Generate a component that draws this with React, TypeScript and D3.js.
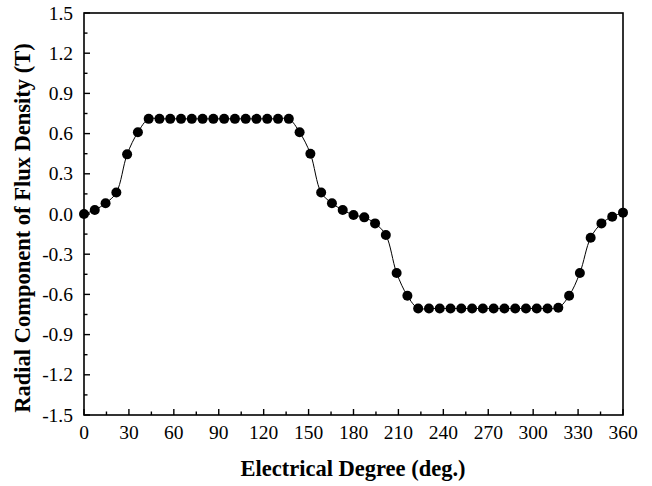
import React, { useEffect, useRef } from 'react';
import * as d3 from 'd3';

// electrical degree, sampled every 7.2 deg (51 points)
const degrees = d3.range(0, 51).map((i) => +(i * 7.2).toFixed(1));

// radial flux density (T)
const fluxValues = [
  0.0, 0.03, 0.08, 0.16, 0.445, 0.61,
  0.71, 0.71, 0.71, 0.71, 0.71, 0.71, 0.71, 0.71, 0.71, 0.71, 0.71, 0.71, 0.71, 0.71,
  0.61, 0.45, 0.16, 0.08, 0.03, -0.007, -0.025, -0.07, -0.157, -0.44, -0.61,
  -0.705, -0.705, -0.705, -0.705, -0.705, -0.705, -0.705, -0.705, -0.705, -0.705, -0.705, -0.705, -0.705, -0.7,
  -0.61, -0.44, -0.177, -0.07, -0.02, 0.01,
];

const xTicks = [0, 30, 60, 90, 120, 150, 180, 210, 240, 270, 300, 330, 360];
const yTicks = [-1.5, -1.2, -0.9, -0.6, -0.3, 0.0, 0.3, 0.6, 0.9, 1.2, 1.5];

const App = () => {
  const ref = useRef<SVGSVGElement>(null);

  useEffect(() => {
    const width = 652;
    const height = 486;
    const margin = { top: 13, left: 84, right: 29, bottom: 71 };
    const svg = d3.select(ref.current);
    svg.selectAll('*').remove();

    const x = d3.scaleLinear().domain([0, 360]).range([margin.left, width - margin.right]);
    const y = d3.scaleLinear().domain([-1.5, 1.5]).range([height - margin.bottom, margin.top]);

    const font = '"Liberation Serif", "Times New Roman", serif';

    // frame
    svg.append('rect')
      .attr('x', x(0))
      .attr('y', y(1.5))
      .attr('width', x(360) - x(0))
      .attr('height', y(-1.5) - y(1.5))
      .style('fill', 'none')
      .style('stroke', '#000')
      .style('stroke-width', 1.6);

    // bottom axis, ticks inward
    const xMinor = d3.range(15, 360, 30);
    svg.append('g').selectAll('line.maj').data(xTicks).enter().append('line')
      .attr('x1', (d) => x(d)).attr('x2', (d) => x(d))
      .attr('y1', y(-1.5)).attr('y2', y(-1.5) - 6)
      .style('stroke', '#000').style('stroke-width', 1.4);
    svg.append('g').selectAll('line.min').data(xMinor).enter().append('line')
      .attr('x1', (d) => x(d)).attr('x2', (d) => x(d))
      .attr('y1', y(-1.5)).attr('y2', y(-1.5) - 3.5)
      .style('stroke', '#000').style('stroke-width', 1.4);
    svg.append('g').selectAll('text').data(xTicks).enter().append('text')
      .attr('x', (d) => x(d))
      .attr('y', y(-1.5) + 24)
      .attr('text-anchor', 'middle')
      .style('font-family', font)
      .style('font-size', '19.5px')
      .text((d) => d);

    // left axis
    const yMinor = d3.range(-1.35, 1.5, 0.3);
    svg.append('g').selectAll('line.maj').data(yTicks).enter().append('line')
      .attr('x1', x(0)).attr('x2', x(0) + 6)
      .attr('y1', (d) => y(d)).attr('y2', (d) => y(d))
      .style('stroke', '#000').style('stroke-width', 1.4);
    svg.append('g').selectAll('line.min').data(yMinor).enter().append('line')
      .attr('x1', x(0)).attr('x2', x(0) + 3.5)
      .attr('y1', (d) => y(d)).attr('y2', (d) => y(d))
      .style('stroke', '#000').style('stroke-width', 1.4);
    svg.append('g').selectAll('text').data(yTicks).enter().append('text')
      .attr('x', x(0) - 11)
      .attr('y', (d) => y(d) + 6.5)
      .attr('text-anchor', 'end')
      .style('font-family', font)
      .style('font-size', '19.5px')
      .text((d) => d.toFixed(1));

    // axis titles
    svg.append('text')
      .attr('x', 353)
      .attr('y', 476)
      .attr('text-anchor', 'middle')
      .style('font-family', font)
      .style('font-weight', 'bold')
      .style('font-size', '22.5px')
      .text('Electrical Degree (deg.)');
    svg.append('text')
      .attr('transform', 'translate(30,228) rotate(-90)')
      .attr('text-anchor', 'middle')
      .style('font-family', font)
      .style('font-weight', 'bold')
      .style('font-size', '22.5px')
      .text('Radial Component of Flux Density (T)');

    const points = degrees.map((d, i) => [d, fluxValues[i]] as [number, number]);

    const line = d3.line<[number, number]>()
      .x((d) => x(d[0]))
      .y((d) => y(d[1]))
      .curve(d3.curveCatmullRom);

    svg.append('path')
      .datum(points)
      .attr('d', line)
      .style('fill', 'none')
      .style('stroke', '#000')
      .style('stroke-width', 1);

    svg.append('g').selectAll('circle').data(points).enter().append('circle')
      .attr('cx', (d) => x(d[0]))
      .attr('cy', (d) => y(d[1]))
      .attr('r', 5)
      .style('fill', '#000');
  }, []);

  return (
    <svg ref={ref} width={652} height={486}
      style={{ position: 'absolute', left: 0, top: 0, background: '#fff' }} />
  );
};

export default App;
